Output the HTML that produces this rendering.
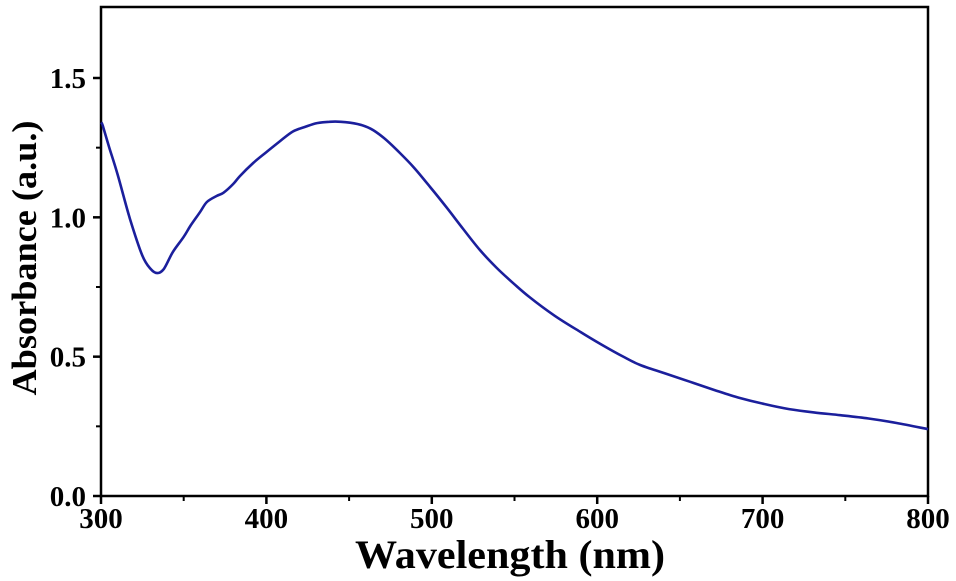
<!DOCTYPE html>
<html><head><meta charset="utf-8"><style>
html,body{margin:0;padding:0;background:#fff;}
svg{display:block;font-family:"Liberation Serif",serif;font-weight:bold;}
</style></head><body>
<svg id="chart" width="956" height="581">
<g id="axes"></g>
<path id="line" fill="none" stroke="#1b1f9c" stroke-width="2.6" stroke-linejoin="round"></path>
<text x="510" y="568" font-size="40" text-anchor="middle" textLength="310" lengthAdjust="spacingAndGlyphs">Wavelength (nm)</text>
<text transform="translate(36,258) rotate(-90)" font-size="35" text-anchor="middle" textLength="275" lengthAdjust="spacingAndGlyphs">Absorbance (a.u.)</text>
</svg>
<script>
const wavelengths=[300,301,305,310,317.5,325,330,334,338,343.5,350,354,360,364,370,374,380,384,392,400,408,416,424,430.6,438,445,455,463,471,479,489,499,509,519,529,539,549,559,574,590,603,616,626,641,656,671,686,701,716,731,747,764,781,800];
const absorbance=[1.34,1.33,1.25,1.155,0.995,0.863,0.815,0.80,0.815,0.876,0.93,0.969,1.02,1.055,1.077,1.088,1.12,1.148,1.195,1.234,1.272,1.308,1.326,1.338,1.343,1.343,1.335,1.318,1.285,1.241,1.18,1.109,1.035,0.958,0.883,0.82,0.765,0.714,0.648,0.588,0.542,0.499,0.47,0.44,0.41,0.38,0.352,0.33,0.312,0.3,0.29,0.278,0.262,0.24];
const xTicks=[300,400,500,600,700,800];
const xTickLabels=["300","400","500","600","700","800"];
const yTicks=[0,0.5,1.0,1.5];
const yTickLabels=["0.0","0.5","1.0","1.5"];
const xMinor=[350,450,550,650,750];
const yMinor=[0.25,0.75,1.25];
const L=101,R=928,T=7,B=496;
function xs(w){return L+(w-300)/500*(R-L);}
function ys(v){return B-v/1.5*(B-78);}
const NS="http://www.w3.org/2000/svg";
const ax=document.getElementById('axes');
function mk(t,a){const e=document.createElementNS(NS,t);for(const k in a)e.setAttribute(k,a[k]);ax.appendChild(e);return e;}
const frame=mk('rect',{x:L,y:T,width:R-L,height:B-T,fill:'none',stroke:'#000','stroke-width':2.5});


xTicks.forEach((t,i)=>{
 const l=mk('line',{x1:xs(t),x2:xs(t),y1:B,y2:B+8,stroke:'#000','stroke-width':2.5});
 
 
 const tx=mk('text',{x:xs(t),y:B+32,'font-size':29,'text-anchor':'middle'});
 tx.textContent=xTickLabels[i];
 
 
});
xMinor.forEach(t=>{
 const l=mk('line',{x1:xs(t),x2:xs(t),y1:B,y2:B+5,stroke:'#000','stroke-width':2});
 
 
});
yTicks.forEach((t,i)=>{
 const l=mk('line',{x1:L-8,x2:L,y1:ys(t),y2:ys(t),stroke:'#000','stroke-width':2.5});
 
 
 const tx=mk('text',{x:L-15,y:ys(t)+10,'font-size':29,'text-anchor':'end'});
 tx.textContent=yTickLabels[i];
 
 
});
yMinor.forEach(t=>{
 const l=mk('line',{x1:L-5,x2:L,y1:ys(t),y2:ys(t),stroke:'#000','stroke-width':2});
 
 
});
// smooth curve through points (Catmull-Rom)
const P=wavelengths.map((w,i)=>[xs(w),ys(absorbance[i])]);
let d='M'+P[0][0].toFixed(1)+','+P[0][1].toFixed(1);
for(let i=0;i<P.length-1;i++){
 const p0=P[Math.max(0,i-1)],p1=P[i],p2=P[i+1],p3=P[Math.min(P.length-1,i+2)];
 const c1=[p1[0]+(p2[0]-p0[0])/6,p1[1]+(p2[1]-p0[1])/6];
 const c2=[p2[0]-(p3[0]-p1[0])/6,p2[1]-(p3[1]-p1[1])/6];
 d+='C'+c1[0].toFixed(1)+','+c1[1].toFixed(1)+' '+c2[0].toFixed(1)+','+c2[1].toFixed(1)+' '+p2[0].toFixed(1)+','+p2[1].toFixed(1);
}
document.getElementById('line').setAttribute('d',d);
</script>
</body></html>
